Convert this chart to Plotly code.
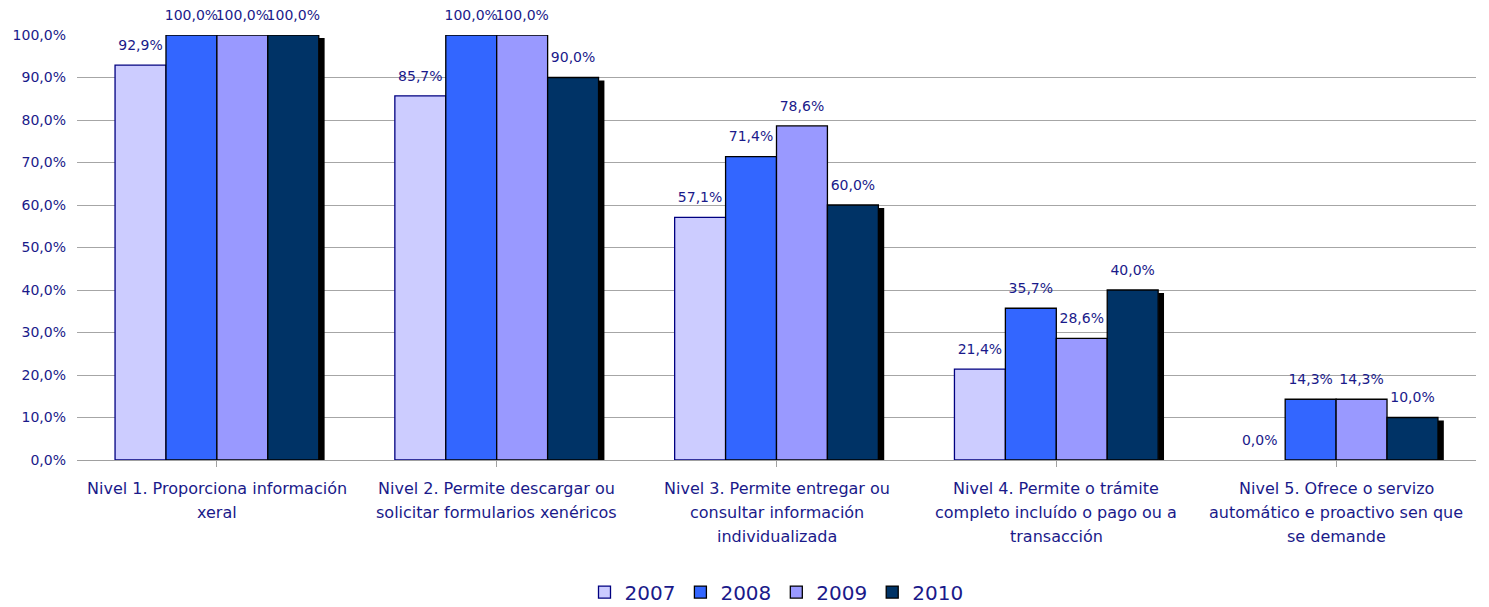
import plotly.graph_objects as go

categories = [
    "Nivel 1. Proporciona información<br>xeral",
    "Nivel 2. Permite descargar ou<br>solicitar formularios xenéricos",
    "Nivel 3. Permite entregar ou<br>consultar información<br>individualizada",
    "Nivel 4. Permite o trámite<br>completo incluído o pago ou a<br>transacción",
    "Nivel 5. Ofrece o servizo<br>automático e proactivo sen que<br>se demande",
]
years = ["2007", "2008", "2009", "2010"]
v2007 = [0.929, 0.857, 0.571, 0.214, 0.0]
v2008 = [1.0, 1.0, 0.714, 0.357, 0.143]
v2009 = [1.0, 1.0, 0.786, 0.286, 0.143]
v2010 = [1.0, 0.90, 0.60, 0.40, 0.10]
series = [v2007, v2008, v2009, v2010]
colors = ["#CCCCFF", "#3366FF", "#9999FF", "#003366"]
outlines = ["#000080", "#000000", "#000000", "#000000"]

FONT = "DejaVu Sans"
TXT = "#1a1a8a"
x_idx = list(range(len(categories)))
bw = 0.182

fig = go.Figure()
for i, (name, vals) in enumerate(zip(years, series)):
    off = -2 * bw + i * bw
    fig.add_trace(go.Bar(
        name=name, x=x_idx, y=vals,
        offset=off, width=bw,
        marker=dict(color=colors[i],
                    line=dict(color=outlines[i],
                              width=[1.3 if v > 0 else 0 for v in vals])),
    ))
# shadow of the 2010 bars
fig.add_trace(go.Bar(
    x=x_idx, y=v2010, yaxis="y2", showlegend=False, hoverinfo="skip",
    offset=2 * bw, width=0.021,
    marker=dict(color="#000000", line=dict(width=0)),
    cliponaxis=True,
))
# value labels
for i, vals in enumerate(series):
    off = -2 * bw + i * bw
    fig.add_trace(go.Scatter(
        x=[xi + off + bw / 2 for xi in x_idx], y=vals,
        mode="markers+text", texttemplate="%{y:.1%}", textposition="top center",
        marker=dict(size=17, opacity=0),
        textfont=dict(family=FONT, size=14, color=TXT),
        showlegend=False, hoverinfo="skip", cliponaxis=False,
    ))

# category labels, one annotation per line
annotations = []
for xi, cat in zip(x_idx, categories):
    for k, line in enumerate(cat.split("<br>")):
        annotations.append(dict(
            x=xi, y=0, xref="x", yref="paper", text=line, showarrow=False,
            yanchor="middle", xanchor="center", yshift=-28 - 24 * k,
            font=dict(family=FONT, size=16, color=TXT),
        ))

# the page body adds an 8px offset, so the figure is sized to compensate
fig.update_layout(
    width=1481, height=599,
    barmode="overlay",
    separators=",.",
    plot_bgcolor="white", paper_bgcolor="white",
    margin=dict(l=69, r=13, t=27, b=147),
    font=dict(family=FONT, color=TXT),
    annotations=annotations,
    xaxis=dict(
        range=[-0.5, 4.5], tickmode="array", tickvals=x_idx,
        showticklabels=False, automargin=False,
        tickson="boundaries", ticks="outside", ticklen=6, tickcolor="#a0a0a0",
        showline=True, linecolor="#a0a0a0", linewidth=1, showgrid=False,
    ),
    yaxis=dict(
        range=[0, 1], dtick=0.1, tickformat=".1%", showgrid=True,
        gridcolor="#a6a6a6", gridwidth=1, zeroline=False, showline=False,
        ticks="", ticklabelstandoff=10, automargin=False,
        tickfont=dict(family=FONT, size=14, color=TXT),
    ),
    yaxis2=dict(range=[0.007, 1.007], overlaying="y", visible=False),
    legend=dict(
        orientation="h", x=0.5, xanchor="center",
        yref="container", y=0.025, yanchor="middle",
        font=dict(family=FONT, size=20, color=TXT), traceorder="normal",
    ),
)

fig.write_html("out.html")
